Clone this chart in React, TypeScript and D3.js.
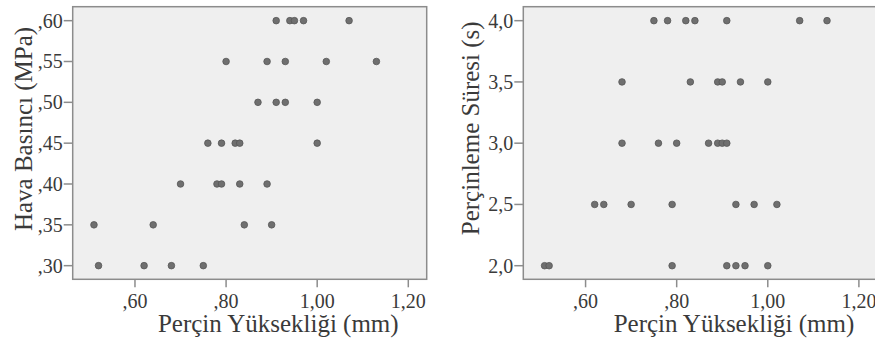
import React, { useEffect, useRef } from "react";
import * as d3 from "d3";

// Panel 1: Perçin Yüksekliği (mm) vs Hava Basıncı (MPa)
const heightA = [0.91, 0.94, 0.95, 0.97, 1.07, 0.80, 0.89, 0.93, 1.02, 1.13, 0.87, 0.91, 0.93, 1.00, 0.76, 0.79, 0.82, 0.83, 1.00, 0.70, 0.78, 0.79, 0.83, 0.89, 0.51, 0.64, 0.84, 0.90, 0.52, 0.62, 0.68, 0.75];
const pressure = [0.60, 0.60, 0.60, 0.60, 0.60, 0.55, 0.55, 0.55, 0.55, 0.55, 0.50, 0.50, 0.50, 0.50, 0.45, 0.45, 0.45, 0.45, 0.45, 0.40, 0.40, 0.40, 0.40, 0.40, 0.35, 0.35, 0.35, 0.35, 0.30, 0.30, 0.30, 0.30];

// Panel 2: Perçin Yüksekliği (mm) vs Perçinleme Süresi (s)
const heightB = [0.75, 0.78, 0.82, 0.84, 0.91, 1.07, 1.13, 0.68, 0.83, 0.89, 0.90, 0.94, 1.00, 0.68, 0.76, 0.80, 0.87, 0.89, 0.90, 0.91, 0.62, 0.64, 0.70, 0.79, 0.93, 0.97, 1.02, 0.51, 0.52, 0.79, 0.91, 0.93, 0.95, 1.00];
const duration = [4.0, 4.0, 4.0, 4.0, 4.0, 4.0, 4.0, 3.5, 3.5, 3.5, 3.5, 3.5, 3.5, 3.0, 3.0, 3.0, 3.0, 3.0, 3.0, 3.0, 2.5, 2.5, 2.5, 2.5, 2.5, 2.5, 2.5, 2.0, 2.0, 2.0, 2.0, 2.0, 2.0, 2.0];

const xTicks = [0.6, 0.8, 1.0, 1.2];
const yTicksA = [0.30, 0.35, 0.40, 0.45, 0.50, 0.55, 0.60];
const yTicksB = [2.0, 2.5, 3.0, 3.5, 4.0];

const xTitle = "Perçin Yüksekliği (mm)";
const yTitleA = "Hava Basıncı (MPa)";
const yTitleB = "Perçinleme Süresi (s)";

const fmtA = (v: number) => "," + Math.round(v * 100).toString().padStart(2, "0");
const fmtX = (v: number) => {
  const s = v.toFixed(2).replace(".", ",");
  return s.startsWith("0") ? s.slice(1) : s;
};
const fmtB = (v: number) => v.toFixed(1).replace(".", ",");

const FONT = '"Times New Roman"';
const TEXT = "#3a3a3a";
const FRAME = "#8c8c8c";

type PanelCfg = {
  left: number;
  right: number;
  xs: number[];
  ys: number[];
  yDomain: [number, number];
  yTicks: number[];
  fmtY: (v: number) => string;
  yTitle: string;
  yTitleX: number;
  yTitleY: number;
  xTitleX: number;
};

const panels: PanelCfg[] = [
  { left: 72.7, right: 426.7, xs: heightA, ys: pressure, yDomain: [0.2833, 0.6171], yTicks: yTicksA, fmtY: fmtA, yTitle: yTitleA, yTitleX: 31.5, yTitleY: 129, xTitleX: 278.3 },
  { left: 523.3, right: 877.3, xs: heightB, ys: duration, yDomain: [1.889, 4.114], yTicks: yTicksB, fmtY: fmtB, yTitle: yTitleB, yTitleX: 479, yTitleY: 128.3, xTitleX: 734 },
];

export default function App() {
  const ref = useRef<SVGSVGElement | null>(null);
  useEffect(() => {
    const svg = d3.select(ref.current);
    svg.selectAll("*").remove();
    svg.append("rect").attr("width", 875).attr("height", 342).attr("fill", "#ffffff");
    const top = 6.7;
    const bottom = 279.3;
    panels.forEach((p) => {
      const x = d3.scaleLinear().domain([0.4633, 1.2404]).range([p.left, p.right]);
      const y = d3.scaleLinear().domain(p.yDomain).range([bottom, top]);
      const g = svg.append("g");
      g.append("rect")
        .attr("x", p.left).attr("y", top)
        .attr("width", p.right - p.left).attr("height", bottom - top)
        .attr("fill", "#efefef").attr("stroke", FRAME).attr("stroke-width", 1.5);
      p.yTicks.forEach((t) => {
        g.append("line").attr("x1", p.left - 9).attr("x2", p.left).attr("y1", y(t)).attr("y2", y(t))
          .attr("stroke", FRAME).attr("stroke-width", 1.5);
        g.append("text").attr("x", p.left - 10).attr("y", y(t) + 7).attr("text-anchor", "end")
          .style("font-family", FONT).style("font-size", "20px").attr("fill", TEXT).text(p.fmtY(t));
      });
      xTicks.forEach((t) => {
        g.append("line").attr("x1", x(t)).attr("x2", x(t)).attr("y1", bottom).attr("y2", bottom + 8)
          .attr("stroke", FRAME).attr("stroke-width", 1.5);
        g.append("text").attr("x", x(t)).attr("y", 308).attr("text-anchor", "middle")
          .style("font-family", FONT).style("font-size", "20px").attr("fill", TEXT).text(fmtX(t));
      });
      p.xs.forEach((v, i) => {
        g.append("circle").attr("cx", x(v)).attr("cy", y(p.ys[i])).attr("r", 3.3)
          .attr("fill", "#6f6f6f").attr("stroke", "#575757").attr("stroke-width", 0.8);
      });
      g.append("text").attr("x", p.xTitleX).attr("y", 332).attr("text-anchor", "middle")
        .style("font-family", FONT).style("font-size", "25px").attr("fill", TEXT).text(xTitle);
      g.append("text").attr("transform", `translate(${p.yTitleX},${p.yTitleY}) rotate(-90)`)
        .attr("text-anchor", "middle")
        .style("font-family", FONT).style("font-size", "25px").attr("fill", TEXT).text(p.yTitle);
    });
  }, []);
  return <svg ref={ref} width={875} height={342} style={{ position: "absolute", left: 0, top: 0 }} />;
}
